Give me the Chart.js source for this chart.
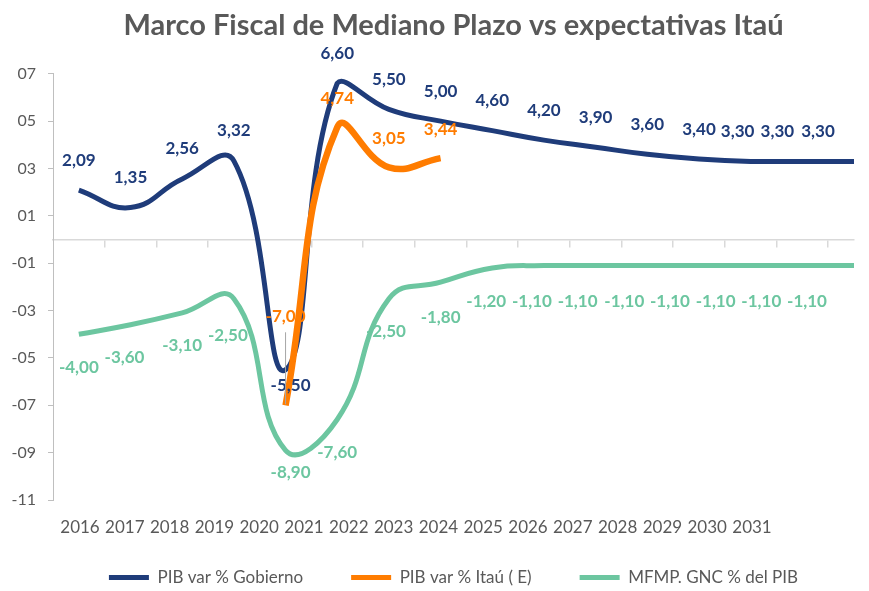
<!DOCTYPE html>
<html>
<head>
<meta charset="utf-8">
<script src="https://cdn.jsdelivr.net/npm/chart.js@4.4.1/dist/chart.umd.min.js"></script>
<style>
  html, body { margin: 0; padding: 0; background: #fff; }
  #wrap { width: 869px; height: 591px; position: relative; }
</style>
</head>
<body>
<div id="wrap"><canvas id="chart"></canvas></div>
<script>
const years = ['2016', '2017', '2018', '2019', '2020', '2021', '2022', '2023',
               '2024', '2025', '2026', '2027', '2028', '2029', '2030', '2031'];
const pibGobierno = [2.09, 1.35, 2.56, 3.32, -5.50, 6.60, 5.50, 5.00,
                     4.60, 4.20, 3.90, 3.60, 3.40, 3.30, 3.30, 3.30];
const pibItau = [null, null, null, null, -7.00, 4.74, 3.05, 3.44,
                 null, null, null, null, null, null, null, null];
const gncMfmp = [-4.00, -3.60, -3.10, -2.50, -8.90, -7.60, -2.50, -1.80,
                 -1.20, -1.10, -1.10, -1.10, -1.10, -1.10, -1.10, -1.10];
const yMin = -11;
const yMax = 7;
const yStep = 2;

const BLUE = '#1F3C7A';
const ORANGE = '#FF7C00';
const GREEN = '#6CC6A0';
const GREY_TEXT = '#595959';

// etiquetas de valor (como en Excel), con desplazamientos para evitar choques
const pointLabels = {
    id: 'pointLabels',
    afterDatasetsDraw(chart) {
        const ctx = chart.ctx;
        ctx.save();
        ctx.font = 'bold 17px Lato';
        ctx.textAlign = 'center';
        ctx.textBaseline = 'middle';
        chart.data.datasets.forEach((ds, di) => {
            const meta = chart.getDatasetMeta(di);
            meta.data.forEach((pt, i) => {
                const v = ds.data[i];
                if (v === null || v === undefined) return;
                const nudge = (ds.labelNudge && ds.labelNudge[i]) || [0, ds.labelDy];
                const x = pt.x + nudge[0];
                const y = pt.y + nudge[1];
                if (ds.leader && ds.leader.includes(i)) {
                    ctx.strokeStyle = '#a6a6a6';
                    ctx.lineWidth = 1;
                    ctx.beginPath();
                    ctx.moveTo(x, y + 16);
                    ctx.lineTo(x, pt.y - 1);
                    ctx.stroke();
                }
                ctx.fillStyle = ds.borderColor;
                ctx.fillText(v.toFixed(2).replace('.', ','), x, y);
            });
        });
        ctx.restore();
    }
};

const ctx = document.getElementById('chart').getContext('2d');
new Chart(ctx, {
    type: 'line',
    data: {
        labels: years,
        datasets: [{
            label: 'PIB var % Gobierno',
            data: pibGobierno,
            borderColor: BLUE,
            backgroundColor: BLUE,
            borderWidth: 5,
            order: 1,
            labelDy: -30,
            labelNudge: { 4: [5, 16], 13: [-13, -30], 14: [-25, -30], 15: [-36, -30] }
        }, {
            label: 'PIB var % Itaú ( E)',
            data: pibItau,
            borderColor: ORANGE,
            backgroundColor: ORANGE,
            borderWidth: 6.5,
            order: 0,
            labelDy: -29,
            labelNudge: { 4: [0, -89] },
            leader: [4]
        }, {
            label: 'MFMP. GNC % del PIB',
            data: gncMfmp,
            borderColor: GREEN,
            backgroundColor: GREEN,
            borderWidth: 5,
            order: 2,
            labelDy: 33,
            labelNudge: {
                1: [-6, 33], 3: [-6, 37], 4: [5, 22], 6: [-3, 33], 7: [0, 35], 8: [-6, 34],
                9: [-12, 36], 10: [-18, 36], 11: [-23, 36], 12: [-29, 36],
                13: [-35, 36], 14: [-41, 36], 15: [-47, 36]
            }
        }]
    },
    options: {
        animation: false,
        responsive: true,
        maintainAspectRatio: false,
        layout: { padding: { left: 8, right: 15, top: 0, bottom: -5 } },
        elements: {
            point: { radius: 0, hoverRadius: 0 },
            line: { tension: 0.45, fill: false }
        },
        plugins: {
            tooltip: { enabled: false },
            title: {
                display: true,
                fullSize: false,
                text: 'Marco Fiscal de Mediano Plazo vs expectativas Itaú',
                color: GREY_TEXT,
                font: { family: 'Lato', size: 29, weight: 'bold' },
                padding: { top: 8, bottom: 31 }
            },
            legend: {
                position: 'bottom',
                fullSize: false,
                labels: {
                    color: GREY_TEXT,
                    font: { family: 'Lato', size: 17 },
                    boxWidth: 40,
                    boxHeight: 5,
                    padding: 48,
                    sort: (a, b) => a.datasetIndex - b.datasetIndex,
                    generateLabels: chart =>
                        Chart.defaults.plugins.legend.labels.generateLabels(chart)
                            .map(l => ({ ...l, lineWidth: 0, fillStyle: l.strokeStyle }))
                }
            }
        },
        scales: {
            x: {
                type: 'linear',
                min: 2015.5,
                max: 2031,
                position: { y: 0 },
                afterBuildTicks: s => {
                    s.ticks = years.slice(0, -1).map(y => ({ value: +y + 0.5 }));
                },
                ticks: { display: false, autoSkip: false },
                grid: { drawOnChartArea: false, drawTicks: true, tickLength: 7, color: '#d9d9d9', lineWidth: 1.5 },
                border: { display: true, color: '#d9d9d9', width: 1.5 }
            },
            // fila de años bajo el gráfico (no alineada con los puntos, como en el original)
            xYears: {
                type: 'linear',
                axis: 'x',
                position: { y: yMin },
                min: 2015.397,
                max: 2033.277,
                afterBuildTicks: s => {
                    s.ticks = years.map(y => ({ value: +y }));
                },
                ticks: {
                    autoSkip: false,
                    maxRotation: 0,
                    padding: 17,
                    color: GREY_TEXT,
                    font: { family: 'Lato', size: 17 },
                    callback: v => String(v)
                },
                grid: { display: false, drawTicks: false },
                border: { display: false }
            },
            // espacio reservado entre el área del gráfico y la leyenda
            xGap: {
                type: 'linear',
                axis: 'x',
                position: 'bottom',
                afterFit: s => { s.height = 21; },
                ticks: { display: false },
                grid: { display: false, drawTicks: false },
                border: { display: false }
            },
            y: {
                min: yMin,
                max: yMax,
                afterFit: s => { s.width = 45; },
                ticks: {
                    stepSize: yStep,
                    padding: 12,
                    color: GREY_TEXT,
                    font: { family: 'Lato', size: 16 },
                    callback: v => (v < 0 ? '-' : '') + String(Math.abs(v)).padStart(2, '0')
                },
                grid: { drawOnChartArea: false, drawTicks: true, tickLength: 5, color: '#bfbfbf' },
                border: { display: true, color: '#bfbfbf', width: 1 }
            }
        }
    },
    plugins: [pointLabels]
});
</script>
</body>
</html>
